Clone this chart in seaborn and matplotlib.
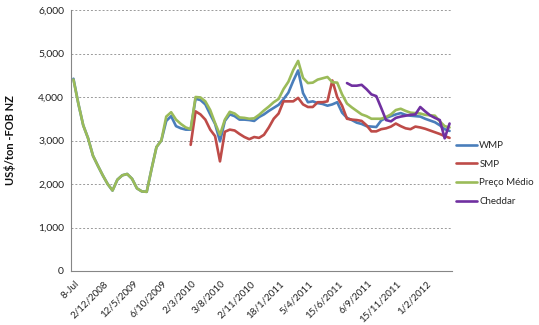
import numpy as np
import pandas as pd
import matplotlib
matplotlib.use("Agg")
import matplotlib.pyplot as plt
import matplotlib.transforms as mtransforms
import seaborn as sns

# ---- data ----
date_labels = ["8-Jul", "2/12/2008", "12/5/2009", "6/10/2009", "2/3/2010", "3/8/2010",
               "2/11/2010", "18/1/2011", "5/4/2011", "15/6/2011", "6/9/2011",
               "15/11/2011", "1/2/2012"]
label_every = 6
n_points = 78

wmp = [4420, 3850, 3350, 3050, 2650, 2420, 2200, 2000, 1850, 2100,
       2200, 2230, 2120, 1900, 1830, 1820, 2350, 2850, 3000, 3450,
       3560, 3330, 3280, 3250, 3250, 3960, 3930, 3830, 3600, 3380,
       2980, 3450, 3600, 3560, 3480, 3480, 3470, 3450, 3540, 3600,
       3680, 3750, 3820, 3950, 4100, 4370, 4610, 4090, 3880, 3900,
       3860, 3840, 3800, 3830, 3880, 3640, 3520, 3470, 3410, 3380,
       3330, 3320, 3310, 3460, 3520, 3560, 3600, 3630, 3590, 3570,
       3560, 3550, 3500, 3460, 3420, 3350, 3260, 3220]

smp = [np.nan] * 24 + [
       2900, 3670, 3600, 3480, 3250, 3100,
       2520, 3200, 3250, 3230, 3150, 3080, 3030, 3080, 3060, 3130,
       3300, 3500, 3620, 3900, 3900, 3900, 3980, 3830, 3770, 3770,
       3880, 3880, 3900, 4380, 4000, 3800, 3500, 3480, 3470, 3450,
       3350, 3210, 3210, 3260, 3280, 3320, 3390, 3330, 3280, 3260,
       3320, 3300, 3270, 3230, 3190, 3150, 3100, 3060]

preco_medio = [4400, 3850, 3350, 3050, 2650, 2420, 2200, 2000, 1850, 2100,
               2200, 2230, 2120, 1900, 1830, 1820, 2350, 2850, 3000, 3550,
               3650, 3480, 3380, 3300, 3260, 4000, 3990, 3900, 3700, 3400,
               3130, 3480, 3660, 3620, 3530, 3520, 3500, 3510, 3590, 3690,
               3780, 3880, 3955, 4180, 4350, 4620, 4830, 4440, 4320, 4330,
               4400, 4430, 4460, 4340, 4330, 4060, 3850, 3760, 3680, 3600,
               3560, 3500, 3500, 3500, 3540, 3600, 3700, 3730, 3680, 3640,
               3630, 3620, 3590, 3580, 3570, 3440, 3330, 3300]

cheddar = [np.nan] * 56 + [
           4320, 4260, 4260, 4280, 4180, 4060, 4020, 3750, 3470, 3440,
           3520, 3550, 3570, 3590, 3600, 3770, 3670, 3580, 3520, 3470,
           3050, 3390]

series_names = ["WMP", "SMP", "Preço Médio", "Cheddar"]
colors = ["#4A7EBB", "#BE4B48", "#9BBB59", "#7030A0"]

# ---- build long table ----
idx = np.arange(n_points)
frames = []
for name, vals in zip(series_names, [wmp, smp, preco_medio, cheddar]):
    frames.append(pd.DataFrame({"x": idx, "y": vals, "serie": name}))
df = pd.concat(frames, ignore_index=True).dropna()

sns.set_theme(style="white")
plt.rcParams["font.family"] = ["Lato", "DejaVu Sans"]

fig = plt.figure(figsize=(5.39, 3.25), dpi=100)
ax = fig.add_axes([71 / 539, 1 - 271 / 325, (452 - 71) / 539, (271 - 10) / 325])

sns.lineplot(data=df, x="x", y="y", hue="serie", hue_order=series_names,
             palette=colors, estimator=None, sort=False, linewidth=1.9,
             ax=ax, legend=False)

ax.set_xlim(-0.5, n_points - 0.5)
ax.set_ylim(0, 6000)
ax.set_yticks(np.arange(0, 6001, 1000))
ax.set_yticklabels([f"{v:,}" for v in range(0, 6001, 1000)], fontsize=7.5, color="#222222")
ax.yaxis.grid(True, color="#9a9a9a", linestyle=(0, (2, 2)), linewidth=0.7)
ax.xaxis.grid(False)
ax.set_axisbelow(True)

label_pos = np.arange(len(date_labels)) * label_every
ax.set_xticks(label_pos)
ax.set_xticklabels(date_labels, rotation=45, ha="right", va="center",
                   rotation_mode="anchor", fontsize=7, color="#222222")
ax.tick_params(axis="x", which="major", length=0, pad=8)
offset = mtransforms.ScaledTranslation(4 / 100, 0, fig.dpi_scale_trans)
for lbl in ax.get_xticklabels():
    lbl.set_transform(lbl.get_transform() + offset)
ax.set_xticks(np.arange(n_points + 1) - 0.5, minor=True)
ax.tick_params(axis="x", which="minor", length=3, width=0.6, color="#868686", direction="out")
ax.tick_params(axis="y", length=3, width=0.6, color="#868686", pad=2)

for s in ["top", "right"]:
    ax.spines[s].set_visible(False)
for s in ["left", "bottom"]:
    ax.spines[s].set_color("#868686")
    ax.spines[s].set_linewidth(0.8)

ax.set_xlabel("")
ax.set_ylabel("US$/ton -FOB NZ", fontsize=8, fontweight="bold", color="#111111")
ax.yaxis.set_label_coords(-55 / 381, 0.5)

handles = [plt.Line2D([], [], color=c, linewidth=1.9) for c in colors]
fig.legend(handles, series_names, loc="center left",
           bbox_to_anchor=(456 / 539, 1 - 173.5 / 325), frameon=False,
           fontsize=7, handlelength=2.2, handletextpad=0.2, labelspacing=1.0,
           borderpad=0, borderaxespad=0)

fig.savefig("out.png", dpi=100)
